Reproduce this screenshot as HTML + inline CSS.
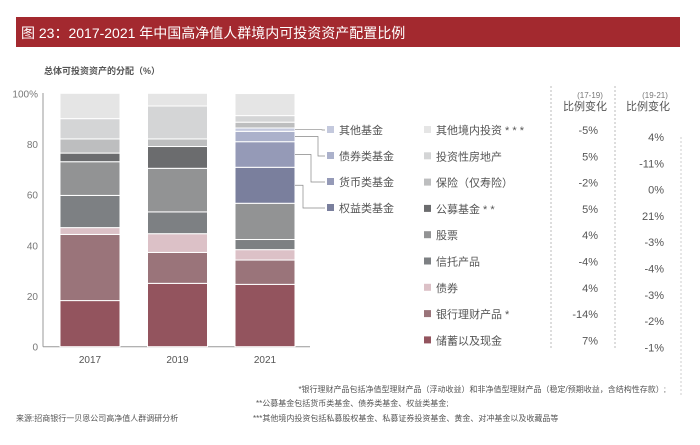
<!DOCTYPE html>
<html><head><meta charset="utf-8"><style>
body{margin:0;background:#fff;width:700px;height:440px;overflow:hidden;font-family:"Liberation Sans","Noto Sans CJK SC",sans-serif}
</style></head><body>
<svg width="700" height="440" xmlns="http://www.w3.org/2000/svg" font-family="Liberation Sans, Noto Sans CJK SC, sans-serif">
<rect x="16" y="17" width="664" height="30" fill="#a3292f"/>
<text x="21" y="38" font-size="14" fill="#fff">图 23：2017-2021 年中国高净值人群境内可投资资产配置比例</text>
<text x="44" y="74" font-size="9" font-weight="bold" fill="#555">总体可投资资产的分配（%）</text>
<g id="plot"></g>
<g id="legend"></g>
<text x="590" y="98" font-size="8" fill="#777" text-anchor="middle">(17-19)</text>
<text x="585" y="110" font-size="11" fill="#555" text-anchor="middle">比例变化</text>
<text x="655" y="98" font-size="8" fill="#777" text-anchor="middle">(19-21)</text>
<text x="648" y="110" font-size="11" fill="#555" text-anchor="middle">比例变化</text>
<line x1="551" y1="86" x2="551" y2="350" stroke="#bbb" stroke-dasharray="2,2"/>
<line x1="615" y1="86" x2="615" y2="350" stroke="#bbb" stroke-dasharray="2,2"/>
<line x1="681" y1="137" x2="681" y2="395" stroke="#ccc" stroke-dasharray="2,2"/>
<text x="666" y="392" font-size="8" fill="#555" text-anchor="end">*银行理财产品包括净值型理财产品（浮动收益）和非净值型理财产品（稳定/预期收益，含结构性存款）;</text>
<text x="256" y="406" font-size="8" fill="#555">**公募基金包括货币类基金、债券类基金、权益类基金;</text>
<text x="253" y="421" font-size="8" fill="#555">***其他境内投资包括私募股权基金、私募证券投资基金、黄金、对冲基金以及收藏品等</text>
<text x="16" y="421" font-size="8" fill="#555">来源:招商银行一贝恩公司高净值人群调研分析</text>
</svg>
<script>
const years=["2017","2019","2021"];
const cats=["储蓄以及现金","银行理财产品","债券","信托产品","股票","公募基金","保险","投资性房地产","其他境内投资"];
const v2017=[18.2,26.1,2.7,12.7,13.3,3.4,5.6,8,10];
const v2019=[25,12.2,7.4,8.6,17.2,8.6,3,13,5];
const v2021=[24.6,9.6,4.1,4,14.3,0,2.3,2.6,8.7];
const funds2021=[14.2,10.1,4.1,1.3];
const fundNames=["权益类基金","货币类基金","债券类基金","其他基金"];
const yTicks=[0,20,40,60,80,100];
const chg1=["7%","-14%","4%","-4%","4%","5%","-2%","5%","-5%"];
const chg2=["-1%","-2%","-3%","-4%","-3%","21%","0%","-11%","4%"];
const legendNames=["储蓄以及现金","银行理财产品 *","债券","信托产品","股票","公募基金 * *","保险（仅寿险）","投资性房地产","其他境内投资 * * *"];
const colors=["#93545e","#9a747a","#dcc1c7","#7d8083","#929394","#6b6c6e","#bdbebf","#d4d5d6","#e5e5e5"];
const fcolors=["#7a7f9d","#959ab7","#abb1cb","#c4c9dd"];
const NS="http://www.w3.org/2000/svg";
const y0=346.7,y100=93.3;
const ys=v=>y0-(y100-y0)*-v/100;
const xs=i=>60+i*87.5;const bw=60;
function mk(t,a,p){const e=document.createElementNS(NS,t);for(const k in a)e.setAttribute(k,a[k]);p.appendChild(e);return e;}
const plot=document.getElementById('plot'),leg=document.getElementById('legend');
yTicks.forEach(t=>{const e=mk('text',{x:38,y:ys(t)+4,'font-size':10,fill:'#777','text-anchor':'end'},plot);e.textContent=t===100?'100%':t;

});
const ax=mk('line',{x1:43,y1:93,x2:43,y2:y0,stroke:'#999'},plot);


const bx=mk('line',{x1:43,y1:y0,x2:310,y2:y0,stroke:'#999'},plot);


const fundY=[];
[v2017,v2019,v2021].forEach((vals,i)=>{let c=0;
 vals.forEach((v,j)=>{
  if(i===2&&j===5){funds2021.forEach((f,k)=>{const r=mk('rect',{x:xs(i),y:ys(c+f),width:bw,height:ys(c)-ys(c+f),fill:fcolors[k],stroke:'#fff','stroke-width':1},plot);
   
   
   fundY.push(ys(c+f/2));c+=f;});return;}
  const r=mk('rect',{x:xs(i),y:ys(c+v),width:bw,height:Math.max(0,ys(c)-ys(c+v)),fill:colors[j],stroke:'#fff','stroke-width':1},plot);
  
  
  c+=v;});
 const t=mk('text',{x:xs(i)+bw/2,y:363,'font-size':10,fill:'#555','text-anchor':'middle'},plot);t.textContent=years[i];
 
 
});
const fy=[208,182,156,130],fk=[303,311,318,322];
funds2021.forEach((f,k)=>{
 const p=mk('polyline',{points:`${xs(2)+bw},${fundY[k]} ${fk[k]},${fundY[k]} ${fk[k]},${fy[k]} 325,${fy[k]}`,fill:'none',stroke:'#888','stroke-width':0.7},leg);
 
 
 const s=mk('rect',{x:327,y:fy[k]-4,width:7,height:7,fill:fcolors[k]},leg);
 
 
 const t=mk('text',{x:339,y:fy[k]+4,'font-size':11,fill:'#555'},leg);t.textContent=fundNames[k];
 
 
});
legendNames.forEach((n,j)=>{const r=8-j;const y=130+r*26.3;
 const s=mk('rect',{x:424,y:y-4,width:7,height:7,fill:colors[j]},leg);
 
 
 const t=mk('text',{x:436,y:y+4,'font-size':11,fill:'#555'},leg);t.textContent=n;
 
 
 const a=mk('text',{x:598,y:y+4,'font-size':11,fill:'#555','text-anchor':'end'},leg);a.textContent=chg1[j];
 
 
 const b=mk('text',{x:664,y:y+11,'font-size':11,fill:'#555','text-anchor':'end'},leg);b.textContent=chg2[j];
 
 
});
</script>
</body></html>
